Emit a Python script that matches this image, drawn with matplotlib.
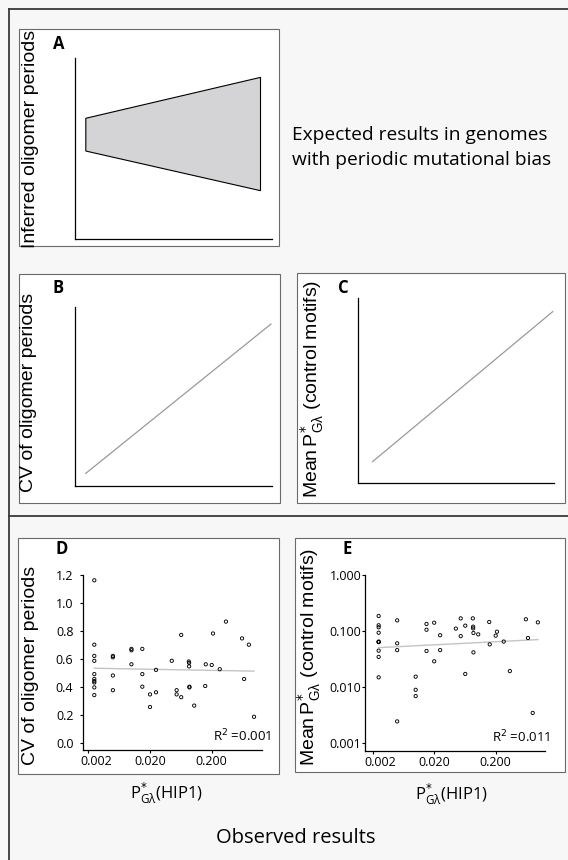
import numpy as np
import matplotlib
matplotlib.use("Agg")
import matplotlib.pyplot as plt
from matplotlib.lines import Line2D
from matplotlib.patches import Rectangle
from matplotlib.transforms import ScaledTranslation

# ------------------------------------------------------------------ data
# P*_G-lambda(HIP1) per genome (x for panels D and E)
hip1 = ([0.0025] * 10 + [0.005] * 4 + [0.010] * 3 + [0.015] * 3 + [0.020] * 2 +
        [0.025] * 2 + [0.045] + [0.054] * 2 + [0.064] * 2 +
        [0.085, 0.086, 0.086, 0.087, 0.087] +
        [0.104, 0.157, 0.160, 0.200, 0.210, 0.270, 0.340, 0.620, 0.670, 0.800, 0.970])

# Panel D: CV of oligomer periods
cv_periods = ([1.16, 0.70, 0.62, 0.585, 0.49, 0.455, 0.44, 0.43, 0.395, 0.34] +
              [0.62, 0.61, 0.48, 0.375] +
              [0.67, 0.66, 0.56] +
              [0.67, 0.49, 0.40] +
              [0.345, 0.255] +
              [0.52, 0.36] +
              [0.585] +
              [0.375, 0.345] +
              [0.77, 0.325] +
              [0.58, 0.57, 0.545, 0.40, 0.395] +
              [0.265, 0.405, 0.56, 0.555, 0.78, 0.525, 0.865, 0.745, 0.455, 0.70, 0.185])

# Panel E: mean P*_G-lambda of control motifs
mean_control = ([0.183, 0.125, 0.115, 0.092, 0.063, 0.0625, 0.064, 0.044, 0.034, 0.0147] +
                [0.153, 0.0595, 0.045, 0.0024] +
                [0.0151, 0.0088, 0.0068] +
                [0.132, 0.104, 0.0434] +
                [0.139, 0.0284] +
                [0.083, 0.045] +
                [0.109] +
                [0.166, 0.080] +
                [0.123, 0.0169] +
                [0.166, 0.118, 0.110, 0.091, 0.041] +
                [0.086, 0.143, 0.057, 0.0815, 0.096, 0.064, 0.019, 0.160, 0.074, 0.0034, 0.141])

x_ticks = [0.002, 0.020, 0.200]
x_ticklabels = ["0.002", "0.020", "0.200"]
d_yticks = [0.0, 0.2, 0.4, 0.6, 0.8, 1.0, 1.2]
d_yticklabels = ["0.0", "0.2", "0.4", "0.6", "0.8", "1.0", "1.2"]
e_yticks = [0.001, 0.010, 0.100, 1.000]
e_yticklabels = ["0.001", "0.010", "0.100", "1.000"]
d_r2 = "0.001"
e_r2 = "0.011"

# schematic panels (fractions of the schematic axes)
a_x = [0.053, 0.943]
a_lower = [0.486, 0.267]
a_upper = [0.667, 0.893]
b_x = [0.053, 0.996]
b_y = [0.069, 0.903]
c_x = [0.074, 0.992]
c_y = [0.117, 0.928]

# ------------------------------------------------------------------ style
plt.rcParams["font.family"] = ["Open Sans", "DejaVu Sans"]
ARIAL = ["Liberation Sans", "DejaVu Sans"]

W, H = 568, 860
fig = plt.figure(figsize=(W / 100, H / 100), dpi=100)
fig.patch.set_facecolor("#f7f7f7")


def fr(x0, y0, x1, y1):
    return [x0 / W, 1 - y1 / H, (x1 - x0) / W, (y1 - y0) / H]


def fx(x):
    return x / W


def fy(y):
    return 1 - y / H


def fline(xs, ys, **kw):
    fig.add_artist(Line2D([fx(v) for v in xs], [fy(v) for v in ys],
                          transform=fig.transFigure, zorder=-2, **kw))


def panel_box(x0, y0, x1, y1):
    fig.add_artist(Rectangle((fx(x0), fy(y1)), (x1 - x0) / W, (y1 - y0) / H,
                             transform=fig.transFigure, facecolor="white",
                             edgecolor="#6a6a6a", linewidth=0.8, zorder=-1))


# outer frame and separator
fline([8.5, 568], [9.3, 9.3], color="#3a3a3a", lw=1.3)
fline([8.5, 8.5], [9.3, 860], color="#3a3a3a", lw=1.3)
fline([8.5, 568], [516, 516], color="#3a3a3a", lw=1.3)

panel_box(18.8, 29, 279, 245.7)
panel_box(18.8, 274, 279.7, 503)
panel_box(297, 272.7, 565, 503.3)
panel_box(18.3, 538.3, 279.3, 774.3)
panel_box(295, 538.3, 565, 772.3)


def sketch_axes(rect):
    ax = fig.add_axes(rect)
    ax.set_facecolor("none")
    for s in ("top", "right"):
        ax.spines[s].set_visible(False)
    for s in ("left", "bottom"):
        ax.spines[s].set_linewidth(0.9)
        ax.spines[s].set_color("black")
    ax.set_xticks([])
    ax.set_yticks([])
    ax.set_xlim(0, 1)
    ax.set_ylim(0, 1)
    return ax


axA = sketch_axes(fr(75.4, 58, 271.7, 239))
axA.fill([a_x[0], a_x[1], a_x[1], a_x[0]],
         [a_lower[0], a_lower[1], a_upper[1], a_upper[0]],
         facecolor="#d4d4d6", edgecolor="black", linewidth=0.8)

axB = sketch_axes(fr(75.4, 306.7, 271.7, 485.7))
axB.plot(b_x, b_y, color="#9a9a9a", lw=0.9)

axC = sketch_axes(fr(358, 298.3, 554.3, 483.3))
axC.plot(c_x, c_y, color="#9a9a9a", lw=0.9)

# ------------------------------------------------------------------ data panels
def data_axes(rect, xlim, ylim, ylog, yticks, yticklabels, ypad):
    ax = fig.add_axes(rect)
    ax.set_facecolor("none")
    ax.set_xscale("log")
    if ylog:
        ax.set_yscale("log")
    for s in ("top", "right"):
        ax.spines[s].set_visible(False)
    for s in ("left", "bottom"):
        ax.spines[s].set_linewidth(0.9)
    ax.set_xlim(*xlim)
    ax.set_ylim(*ylim)
    ax.set_xticks(x_ticks)
    ax.set_xticklabels(x_ticklabels)
    ax.xaxis.set_minor_locator(matplotlib.ticker.NullLocator())
    ax.set_yticks(yticks)
    ax.set_yticklabels(yticklabels)
    ax.yaxis.set_minor_locator(matplotlib.ticker.NullLocator())
    ax.tick_params(axis="both", direction="out", length=2.2, width=0.8,
                   labelsize=9, colors="black")
    ax.tick_params(axis="x", pad=1.5)
    ax.tick_params(axis="y", pad=ypad)
    t0 = ax.xaxis.get_major_ticks()[0]
    t0.label1.set_transform(t0.label1.get_transform() +
                            ScaledTranslation(0.08, 0, fig.dpi_scale_trans))
    return ax


hx = np.array(hip1)
lx = np.log10(hx)

axD = data_axes(fr(82.7, 574.7, 261.7, 749.7), (10 ** -2.790, 10 ** 0.111),
                (-0.05, 1.2), False, d_yticks, d_yticklabels, 4.5)
cv = np.array(cv_periods)
kD = np.polyfit(lx, cv, 1)
xs = np.array([hx.min(), hx.max()])
axD.plot(xs, np.polyval(kD, np.log10(xs)), color="#c4c4c4", lw=1.0, zorder=1)
axD.scatter(hx, cv, s=5.5, facecolors="none", edgecolors="black",
            linewidths=0.65, zorder=2)

axE = data_axes(fr(365, 574.7, 545, 750.7), (10 ** -2.824, 10 ** 0.103),
                (10 ** -3.143, 1.0), True, e_yticks, e_yticklabels, 0.4)
mc = np.array(mean_control)
kE = np.polyfit(lx, np.log10(mc), 1)
axE.plot(xs, 10 ** np.polyval(kE, np.log10(xs)), color="#c4c4c4", lw=1.0, zorder=1)
axE.scatter(hx, mc, s=5.5, facecolors="none", edgecolors="black",
            linewidths=0.65, zorder=2)

# ------------------------------------------------------------------ texts
for lab, (x, y) in {"A": (58.5, 44), "B": (58.5, 288), "C": (343.5, 288),
                    "D": (61.5, 549), "E": (346.7, 549)}.items():
    fig.text(fx(x), fy(y), lab, fontsize=12, fontweight="bold",
             ha="center", va="center")

pgl = r"$\mathregular{P}^{*}_{\mathregular{G\lambda}}$"
ylabs = [
    ("Inferred oligomer periods", 31, 138.5),
    ("CV of oligomer periods", 29, 392),
    ("Mean" + r"$\,$" + pgl + " (control motifs)", 312, 389),
    ("CV of oligomer periods", 31, 665),
    ("Mean" + r"$\,$" + pgl + " (control motifs)", 309, 656.5),
]
for txt, x, y in ylabs:
    fig.text(fx(x), fy(y), txt, rotation=90, fontsize=14, family=ARIAL,
             ha="center", va="center")

fig.text(fx(292), fy(135), "Expected results in genomes", fontsize=13.8,
         ha="left", va="center")
fig.text(fx(292), fy(160), "with periodic mutational bias", fontsize=13.8,
         ha="left", va="center")
fig.text(fx(296), fy(838), "Observed results", fontsize=14.5,
         ha="center", va="center")

fig.text(fx(166.7), fy(793), pgl + "(HIP1)", fontsize=12, ha="center", va="center")
fig.text(fx(451), fy(794), pgl + "(HIP1)", fontsize=12, ha="center", va="center")

fig.text(fx(271.7), fy(741.7), "R$^{2}$ =" + d_r2, fontsize=9.5,
         ha="right", va="baseline")
fig.text(fx(550), fy(742), "R$^{2}$ =" + e_r2, fontsize=9.5,
         ha="right", va="baseline")

fig.savefig("out.png", dpi=100, facecolor=fig.get_facecolor())
